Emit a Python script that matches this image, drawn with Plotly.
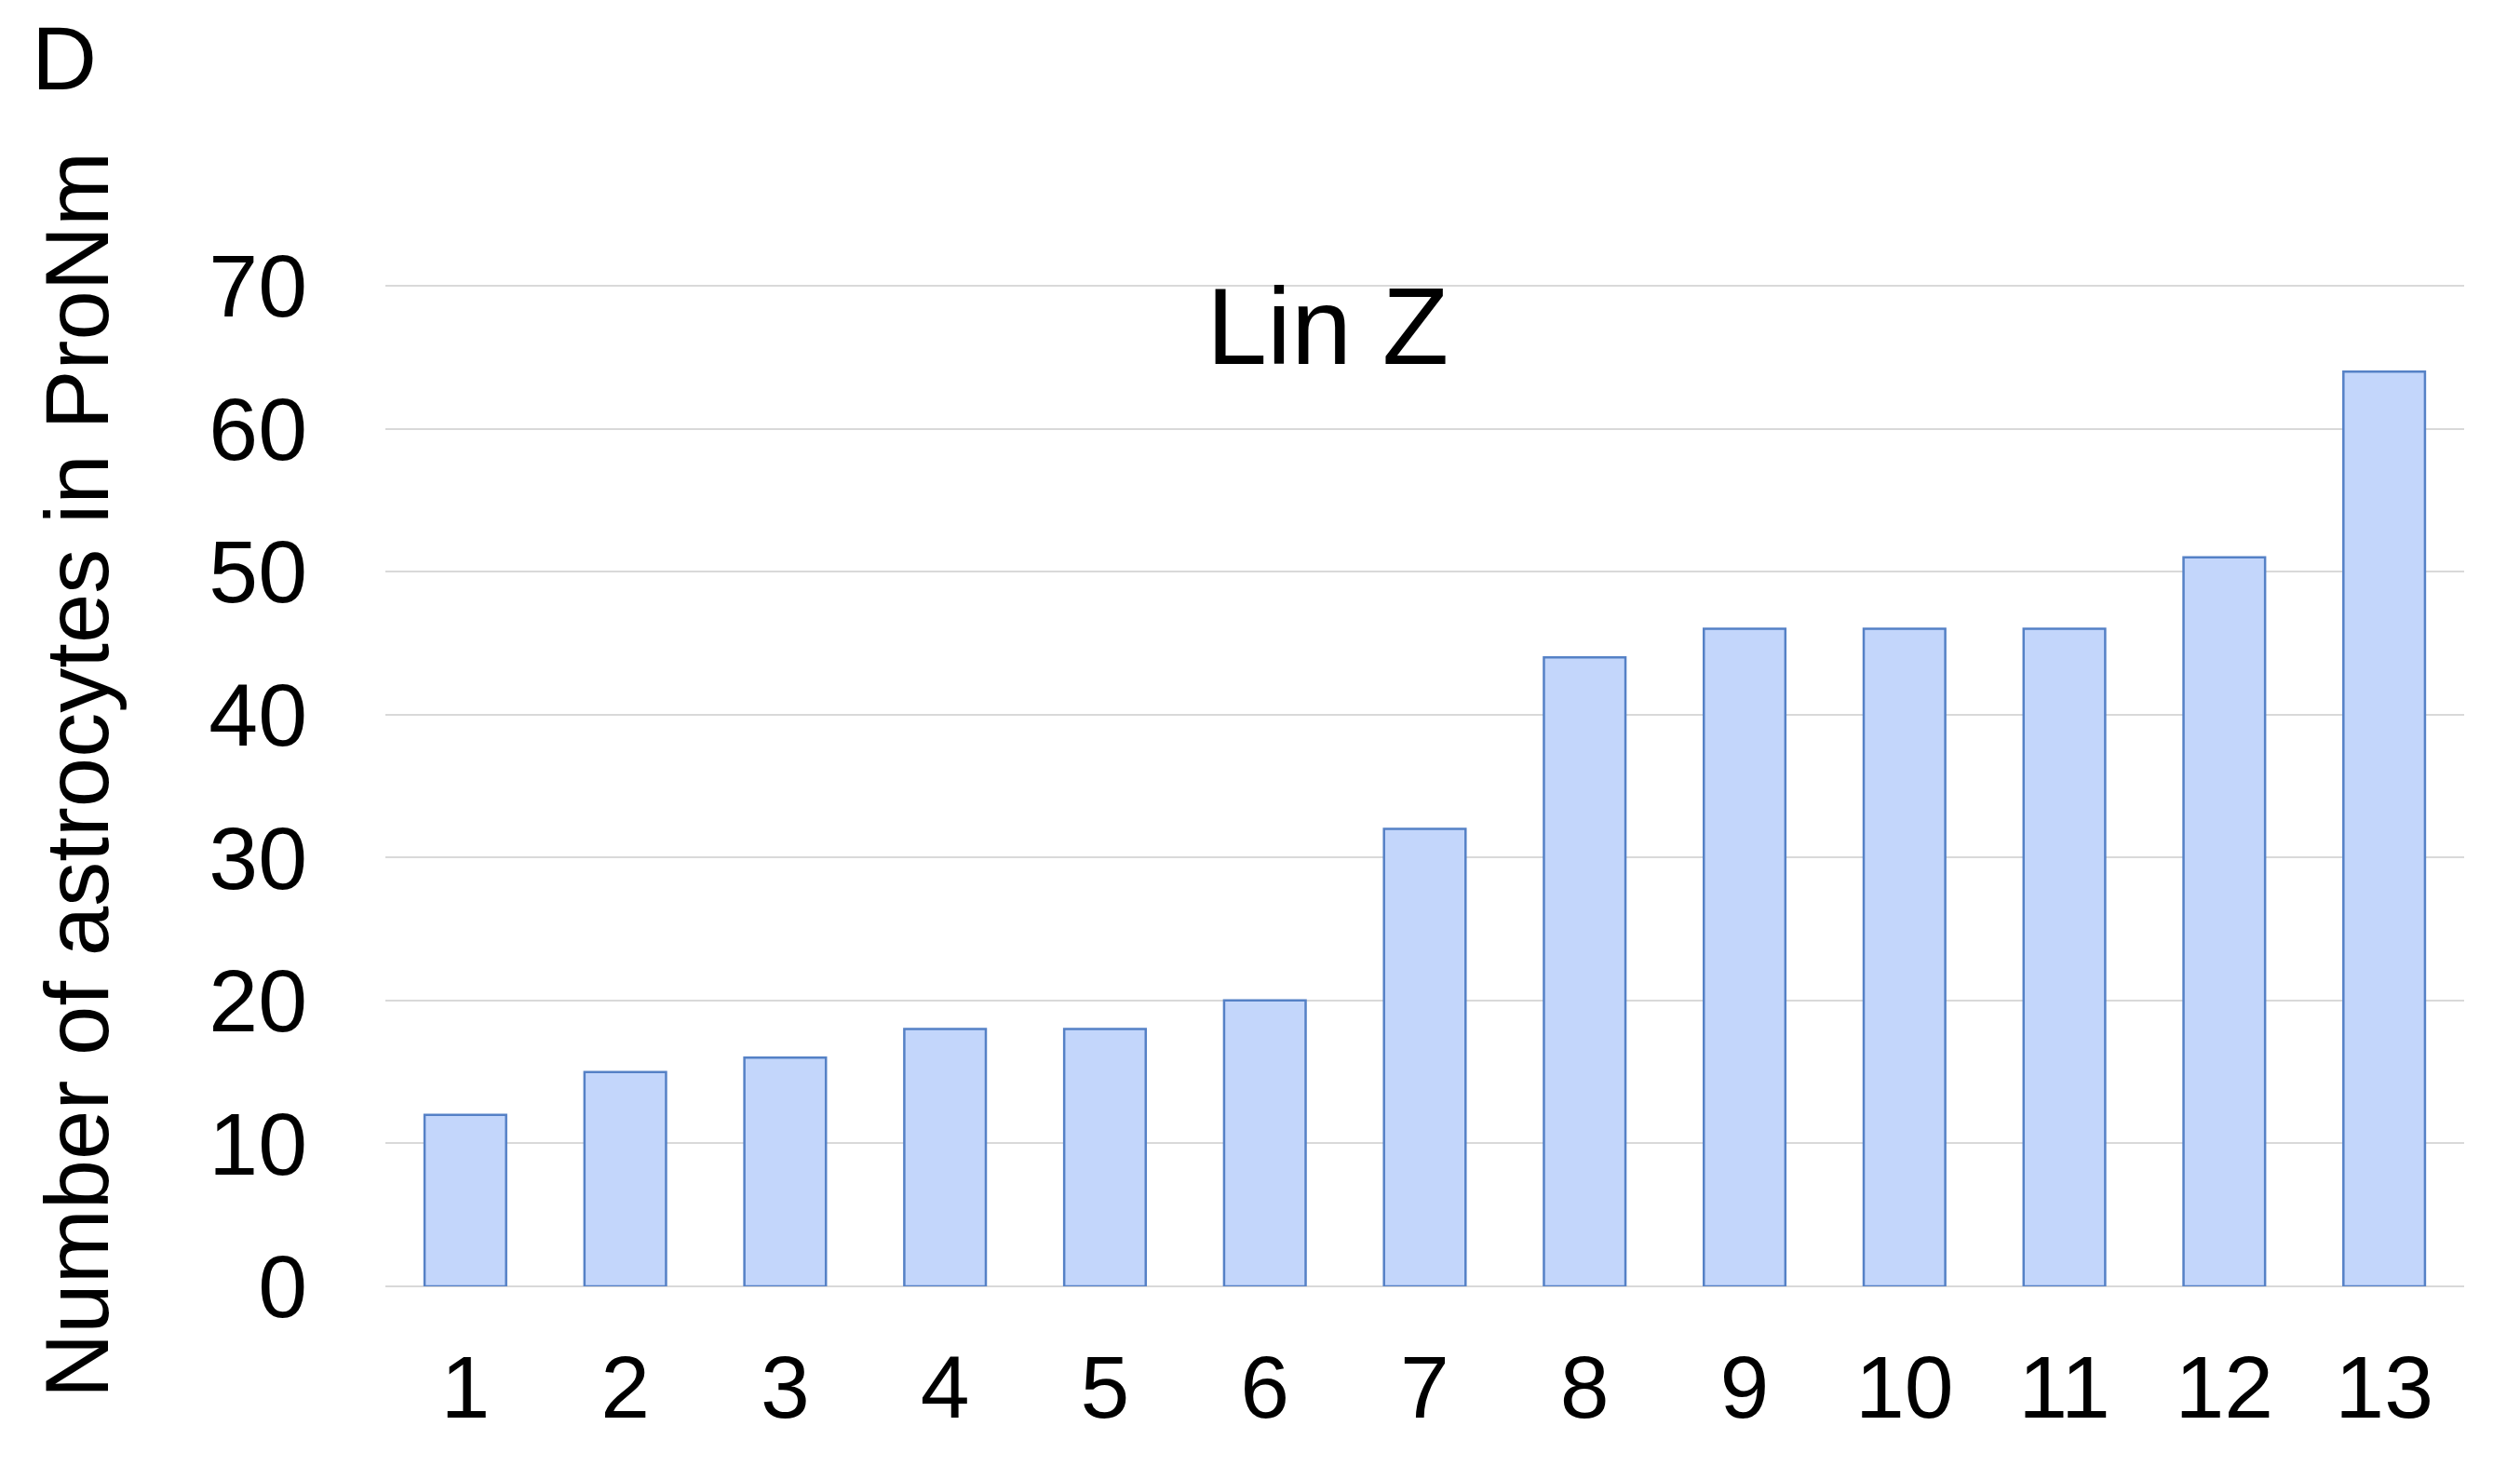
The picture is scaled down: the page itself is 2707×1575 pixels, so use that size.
import plotly.graph_objects as go

categories = [str(i) for i in range(1, 14)]
values = [12, 15, 16, 18, 18, 20, 32, 44, 46, 46, 46, 51, 64]
y_ticks = [0, 10, 20, 30, 40, 50, 60, 70]
title_text = "Lin Z"
y_title = "Number of astrocytes in ProNm"
panel_label = "D"

# page body has an 8px default margin; figure sized to fit the window
OFF = 8
W, H = 2707 - 2 * OFF, 1575 - 2 * OFF
L, R, T, B = 414 - OFF, 52, 305 - OFF, 185
FONT = "Liberation Sans, Arial, sans-serif"

fig = go.Figure()
fig.add_trace(go.Bar(
    x=categories, y=values,
    marker=dict(color="#C3D6FB", line=dict(color="#5581C6", width=2.5)),
    width=0.51,
))

pw = W - L - R
ph = H - T - B

def px_x(x):
    return (x - OFF - L) / pw

def px_y(y):
    return (H - B - (y - OFF)) / ph

fig.update_layout(
    width=W, height=H,
    margin=dict(l=L, r=R, t=T, b=B, autoexpand=False),
    plot_bgcolor="white", paper_bgcolor="white",
    showlegend=False,
    font=dict(family=FONT, color="black"),
    xaxis=dict(
        type="category", showgrid=False, showline=False, zeroline=False,
        automargin=False,
        ticks="", tickfont=dict(size=95, family=FONT, color="black"),
        ticklabelstandoff=45,
    ),
    yaxis=dict(
        range=[0, 70.13], tickvals=y_ticks, showgrid=True, gridcolor="#D9D9D9",
        gridwidth=2, zeroline=True, zerolinecolor="#D9D9D9", zerolinewidth=2,
        automargin=False,
        showline=False, ticks="", tickfont=dict(size=95, family=FONT, color="black"),
        ticklabelstandoff=83,
    ),
    annotations=[
        dict(text=title_text, xref="paper", yref="paper", x=px_x(1426), y=px_y(350),
             xanchor="center", yanchor="middle", showarrow=False,
             font=dict(size=117, family=FONT, color="black")),
        dict(text=y_title, xref="paper", yref="paper", x=px_x(82), y=px_y(833),
             xanchor="center", yanchor="middle", showarrow=False, textangle=-90,
             font=dict(size=96, family=FONT, color="black")),
        dict(text=panel_label, xref="paper", yref="paper", x=px_x(69), y=px_y(62),
             xanchor="center", yanchor="middle", showarrow=False,
             font=dict(size=97, family=FONT, color="black")),
    ],
)

fig.write_html("out.html")
